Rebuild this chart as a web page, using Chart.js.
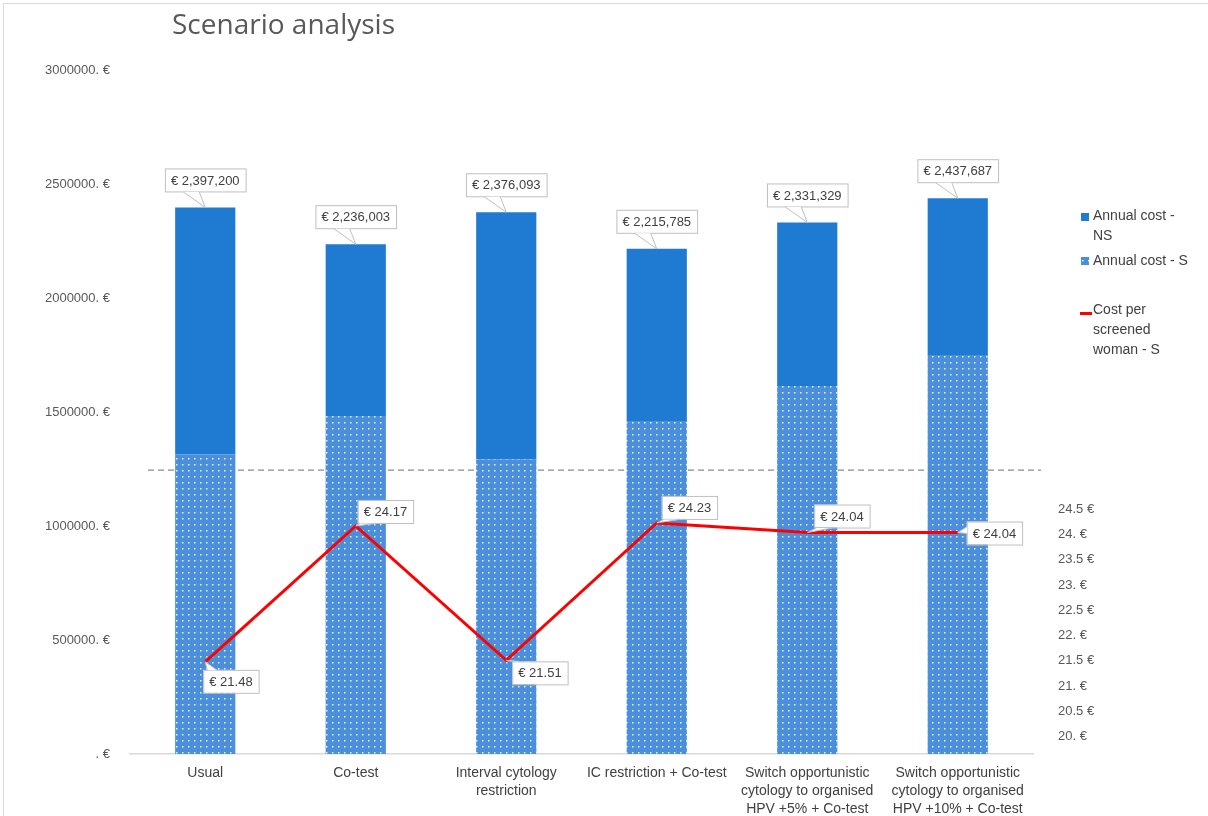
<!DOCTYPE html>
<html>
<head>
<meta charset="utf-8">
<script src="https://cdn.jsdelivr.net/npm/chart.js@4"></script>
<style>
  body { margin: 0; background: #fff; }
  #wrap { position: relative; width: 1208px; height: 816px; }
</style>
</head>
<body>
<div id="wrap"><canvas id="scenarioChart"></canvas></div>
<script>
// scenario data
const scenarios = [
  "Usual",
  "Co-test",
  ["Interval cytology", "restriction"],
  "IC restriction + Co-test",
  ["Switch opportunistic", "cytology to organised", "HPV +5% + Co-test"],
  ["Switch opportunistic", "cytology to organised", "HPV +10% + Co-test"],
];
const annualCostS = [1315000, 1482000, 1293000, 1460000, 1614000, 1750000];
const annualTotal = [2397200, 2236003, 2376093, 2215785, 2331329, 2437687];
const annualCostNS = annualTotal.map((t, i) => t - annualCostS[i]);
const costPerWoman = [21.48, 24.17, 21.51, 24.23, 24.04, 24.04];
const leftTicks = [0, 500000, 1000000, 1500000, 2000000, 2500000, 3000000];
const rightTicks = [20, 20.5, 21, 21.5, 22, 22.5, 23, 23.5, 24, 24.5];

// where the line value boxes sit relative to their point
const lineLabelOffsets = [[-2, 8], [2, -26], [6, 1], [5, -27], [7, -28], [9, -11]];

const blueNS = "#1f7bd2";
const textColor = "#404040";

function makeDotPattern() {
  const c = document.createElement("canvas");
  c.width = 6;
  c.height = 6;
  const g = c.getContext("2d");
  g.fillStyle = "#4b8fdc";
  g.fillRect(0, 0, 6, 6);
  g.fillStyle = "rgba(255,255,255,0.85)";
  g.fillRect(2, 2, 1.5, 1.5);
  return g.createPattern(c, "repeat");
}
const dotPattern = makeDotPattern();

function euroGroup(v) {
  return "€ " + v.toLocaleString("en-US");
}

function calloutBox(ctx, text, left, top, tip) {
  ctx.font = "13px 'Liberation Sans', Arial, sans-serif";
  const w = ctx.measureText(text).width + 12;
  const h = 23;
  const right = left + w;
  const bottom = top + h;
  ctx.fillStyle = "#fff";
  ctx.strokeStyle = "#bfbfbf";
  ctx.lineWidth = 1;
  ctx.fillRect(left, top, w, h);
  ctx.strokeRect(left + 0.5, top + 0.5, w, h);
  // wedge pointing at the mark
  let a, b;
  if (tip.y > bottom) {
    const x0 = Math.min(Math.max(tip.x - 22, left + 2), right - 20);
    a = { x: x0, y: bottom + 0.5 };
    b = { x: x0 + 16, y: bottom + 0.5 };
  } else if (tip.y < top) {
    const x0 = Math.min(Math.max(tip.x + 2, left + 2), right - 14);
    a = { x: x0, y: top + 0.5 };
    b = { x: x0 + 10, y: top + 0.5 };
  } else {
    const y0 = Math.min(Math.max(tip.y - 6, top + 2), bottom - 10);
    a = { x: left + 0.5, y: y0 };
    b = { x: left + 0.5, y: y0 + 7 };
  }
  ctx.beginPath();
  ctx.moveTo(a.x, a.y);
  ctx.lineTo(tip.x, tip.y);
  ctx.lineTo(b.x, b.y);
  ctx.closePath();
  ctx.fill();
  ctx.beginPath();
  ctx.moveTo(a.x, a.y);
  ctx.lineTo(tip.x, tip.y);
  ctx.lineTo(b.x, b.y);
  ctx.stroke();
  ctx.fillStyle = textColor;
  ctx.textAlign = "left";
  ctx.textBaseline = "middle";
  ctx.fillText(text, left + 6, top + h / 2 + 1);
}

const extrasPlugin = {
  id: "extras",
  beforeDatasetsDraw(chart) {
    const { ctx, chartArea } = chart;
    const y = chart.scales.y.getPixelForValue(1245000);
    ctx.save();
    ctx.strokeStyle = "#8c8c8c";
    ctx.lineWidth = 1.2;
    ctx.setLineDash([6, 4]);
    ctx.beginPath();
    ctx.moveTo(chartArea.left + 18, y);
    ctx.lineTo(chartArea.right + 8, y);
    ctx.stroke();
    ctx.restore();
  },
  afterDatasetsDraw(chart) {
    const { ctx } = chart;
    ctx.save();
    // totals above the stacked bars
    const topMeta = chart.getDatasetMeta(2);
    topMeta.data.forEach((bar, i) => {
      const text = euroGroup(annualTotal[i]);
      ctx.font = "13px 'Liberation Sans', Arial, sans-serif";
      const w = ctx.measureText(text).width + 12;
      calloutBox(ctx, text, bar.x - w / 2, bar.y - 39, { x: bar.x, y: bar.y });
    });
    // cost per screened woman values
    const lineMeta = chart.getDatasetMeta(0);
    lineMeta.data.forEach((pt, i) => {
      const off = lineLabelOffsets[i];
      calloutBox(ctx, "€ " + costPerWoman[i].toFixed(2), pt.x + off[0], pt.y + off[1], { x: pt.x, y: pt.y });
    });
    ctx.restore();
  },
  afterDraw(chart) {
    const { ctx } = chart;
    ctx.save();
    // frame
    ctx.strokeStyle = "#d9d9d9";
    ctx.lineWidth = 1;
    ctx.strokeRect(3.5, 3.5, 1220, 830);
    // title
    ctx.fillStyle = "#595959";
    ctx.font = "28px 'Open Sans', sans-serif";
    ctx.textAlign = "left";
    ctx.textBaseline = "alphabetic";
    ctx.fillText("Scenario analysis", 172, 34);
    // legend
    ctx.font = "14px 'Liberation Sans', Arial, sans-serif";
    ctx.textBaseline = "middle";
    ctx.fillStyle = blueNS;
    ctx.fillRect(1081, 213, 8, 8);
    ctx.fillStyle = dotPattern;
    ctx.fillRect(1081, 257, 8, 8);
    ctx.fillStyle = "#ff0000";
    ctx.fillRect(1080, 312, 12, 3);
    ctx.fillStyle = textColor;
    ctx.fillText("Annual cost -", 1093, 216);
    ctx.fillText("NS", 1093, 236);
    ctx.fillText("Annual cost - S", 1093, 261);
    ctx.fillText("Cost per", 1093, 310);
    ctx.fillText("screened", 1093, 330);
    ctx.fillText("woman - S", 1093, 350);
    ctx.restore();
  },
};

const ctx = document.getElementById("scenarioChart").getContext("2d");
const chart = new Chart(ctx, {
  type: "bar",
  data: {
    labels: scenarios,
    datasets: [
      {
        type: "line",
        label: "Cost per screened woman - S",
        data: costPerWoman,
        yAxisID: "y2",
        borderColor: "#ff0000",
        borderWidth: 3,
        pointRadius: 0,
        tension: 0,
        order: 0,
      },
      {
        label: "Annual cost - S",
        data: annualCostS,
        backgroundColor: dotPattern,
        stack: "cost",
        order: 1,
      },
      {
        label: "Annual cost - NS",
        data: annualCostNS,
        backgroundColor: blueNS,
        stack: "cost",
        order: 1,
      },
    ],
  },
  options: {
    responsive: true,
    maintainAspectRatio: false,
    animation: false,
    layout: { padding: { top: 70, left: 45, right: 105, bottom: 0 } },
    datasets: { bar: { barPercentage: 0.8, categoryPercentage: 0.5 } },
    plugins: {
      legend: { display: false },
      tooltip: { enabled: false },
      title: { display: false },
    },
    scales: {
      x: {
        stacked: true,
        grid: { display: false, drawTicks: false },
        border: { display: true, color: "#d9d9d9", width: 1.5 },
        ticks: {
          autoSkip: false,
          maxRotation: 0,
          padding: 10,
          color: textColor,
          font: { family: "'Liberation Sans Narrow', 'Liberation Sans', sans-serif", size: 14, lineHeight: 1.3 },
        },
        afterFit(scale) { scale.height = 62; },
      },
      y: {
        stacked: true,
        min: 0,
        max: 3000000,
        grid: { display: false },
        border: { display: false },
        afterBuildTicks(scale) { scale.ticks = leftTicks.map((v) => ({ value: v })); },
        ticks: {
          padding: 12,
          color: "#595959",
          font: { family: "'Liberation Sans', Arial, sans-serif", size: 13 },
          callback: (v) => (v === 0 ? "" : v) + ". €",
        },
        afterFit(scale) { scale.width = 85; },
      },
      y2: {
        position: "right",
        min: 19.656,
        max: 33.196,
        grid: { display: false },
        border: { display: false },
        afterBuildTicks(scale) { scale.ticks = rightTicks.map((v) => ({ value: v })); },
        ticks: {
          padding: 17,
          color: "#595959",
          font: { family: "'Liberation Sans', Arial, sans-serif", size: 13 },
          callback: (v) => (Number.isInteger(v) ? v + ". €" : v + " €"),
        },
        afterFit(scale) { scale.width = 70; },
      },
    },
  },
  plugins: [extrasPlugin],
});
</script>
</body>
</html>
